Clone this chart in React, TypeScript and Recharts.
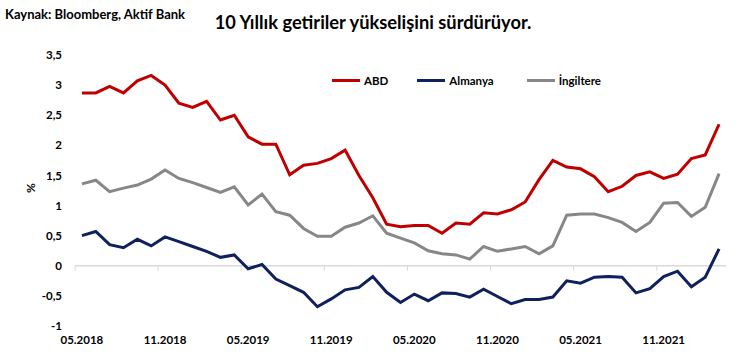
import React from 'react';
import { LineChart, Line, XAxis, YAxis, Legend, ReferenceLine } from 'recharts';

const months = [
  '05.2018', '06.2018', '07.2018', '08.2018', '09.2018', '10.2018', '11.2018', '12.2018',
  '01.2019', '02.2019', '03.2019', '04.2019', '05.2019', '06.2019', '07.2019', '08.2019',
  '09.2019', '10.2019', '11.2019', '12.2019', '01.2020', '02.2020', '03.2020', '04.2020',
  '05.2020', '06.2020', '07.2020', '08.2020', '09.2020', '10.2020', '11.2020', '12.2020',
  '01.2021', '02.2021', '03.2021', '04.2021', '05.2021', '06.2021', '07.2021', '08.2021',
  '09.2021', '10.2021', '11.2021', '12.2021', '01.2022', '02.2022', '03.2022',
];

const abd = [
  2.87, 2.87, 2.98, 2.87, 3.07, 3.16, 3.0, 2.7, 2.63, 2.73, 2.42, 2.5, 2.14, 2.02, 2.02, 1.51,
  1.67, 1.7, 1.78, 1.92, 1.5, 1.13, 0.69, 0.65, 0.67, 0.67, 0.54, 0.71, 0.69, 0.88, 0.86, 0.93,
  1.06, 1.43, 1.75, 1.64, 1.61, 1.48, 1.23, 1.32, 1.5, 1.56, 1.45, 1.52, 1.78, 1.84, 2.35,
];

const almanya = [
  0.5, 0.57, 0.35, 0.3, 0.44, 0.33, 0.48, 0.4, 0.32, 0.24, 0.14, 0.18, -0.05, 0.02, -0.22, -0.33,
  -0.44, -0.68, -0.55, -0.4, -0.36, -0.18, -0.44, -0.61, -0.47, -0.58, -0.45, -0.46, -0.52, -0.39,
  -0.51, -0.63, -0.56, -0.56, -0.52, -0.25, -0.29, -0.19, -0.18, -0.19, -0.45, -0.38, -0.18, -0.09,
  -0.35, -0.19, 0.28,
];

const ingiltere = [
  1.36, 1.42, 1.23, 1.29, 1.34, 1.44, 1.59, 1.45, 1.38, 1.3, 1.22, 1.31, 1.01, 1.19, 0.9, 0.84,
  0.62, 0.49, 0.49, 0.64, 0.71, 0.83, 0.54, 0.46, 0.38, 0.25, 0.2, 0.18, 0.11, 0.32, 0.24, 0.28,
  0.32, 0.2, 0.33, 0.84, 0.86, 0.86, 0.8, 0.72, 0.57, 0.72, 1.04, 1.05, 0.82, 0.97, 1.53,
];

const xTickLabels = ['05.2018', '11.2018', '05.2019', '11.2019', '05.2020', '11.2020', '05.2021', '11.2021'];
const yTicks = [-1, -0.5, 0, 0.5, 1, 1.5, 2, 2.5, 3, 3.5];

const data = months.map((m, i) => ({
  month: m,
  ABD: abd[i],
  Almanya: almanya[i],
  'İngiltere': ingiltere[i],
}));

const FONT = "Lato, 'Open Sans', sans-serif";
const W = 746;
const H = 363;
const MARGIN = { top: 55, right: 20, bottom: 7, left: 0 };
const Y_AXIS_W = 75;
const X_AXIS_H = 30;
const PLOT_W = W - MARGIN.left - MARGIN.right - Y_AXIS_W;
const PLOT_H = H - MARGIN.top - MARGIN.bottom - X_AXIS_H;
const STEP = PLOT_W / months.length;
const Y_MIN = -1;
const Y_MAX = 3.5;
const ZERO_Y = MARGIN.top + (PLOT_H * Y_MAX) / (Y_MAX - Y_MIN);

const XTick = (props: any) => {
  const { x, y, payload } = props;
  const tx = x - STEP / 2;
  return (
    <g>
      <line x1={tx} x2={tx} y1={ZERO_Y} y2={ZERO_Y + 5} stroke="#d9d9d9" strokeWidth={1} />
      <text x={x} y={y} dy="0.71em" textAnchor="middle" fill="#000" fontSize={11.5} fontWeight={700} fontFamily={FONT}>
        {payload.value}
      </text>
    </g>
  );
};

const renderLegend = (props: any) => {
  const { payload } = props;
  return (
    <div style={{ display: 'flex', alignItems: 'center', fontFamily: FONT, fontSize: 11.5, fontWeight: 700 }}>
      {payload.map((entry: any, i: number) => (
        <div key={entry.value} style={{ display: 'flex', alignItems: 'center', marginRight: i === 0 ? 29 : 33 }}>
          <div style={{ width: 28, height: 3, background: entry.color, marginRight: 4 }} />
          <span style={{ color: '#000' }}>{entry.value}</span>
        </div>
      ))}
    </div>
  );
};

export default function App() {
  return (
    <div style={{ position: 'absolute', left: 0, top: 0, width: W, height: H, background: '#fff', fontFamily: FONT }}>
      <div style={{ position: 'absolute', left: 5, top: 6, fontSize: 13, fontWeight: 700, color: '#000' }}>
        Kaynak: Bloomberg, Aktif Bank
      </div>
      <div style={{ position: 'absolute', left: 0, top: 11, width: W, textAlign: 'center', fontSize: 18.3, fontWeight: 700, color: '#000', lineHeight: '22px' }}>
        10 Yıllık getiriler yükselişini sürdürüyor.
      </div>
      <div style={{ position: 'absolute', left: 22, top: 180, width: 16, height: 16, display: 'flex', alignItems: 'center', justifyContent: 'center', transform: 'rotate(-90deg)', fontSize: 12, fontWeight: 700 }}>
        %
      </div>
      <LineChart width={W} height={H} data={data} margin={MARGIN}>
        <ReferenceLine y={0} stroke="#d9d9d9" strokeWidth={1.5} />
        <XAxis
          dataKey="month"
          ticks={xTickLabels}
          interval={0}
          height={X_AXIS_H}
          axisLine={false}
          tickLine={false}
          tickMargin={4}
          padding={{ left: STEP / 2, right: STEP / 2 }}
          tick={<XTick />}
        />
        <YAxis
          width={Y_AXIS_W}
          domain={[Y_MIN, Y_MAX]}
          ticks={yTicks}
          interval={0}
          axisLine={false}
          tickLine={false}
          tickMargin={7}
          tickFormatter={(v: number) => String(v).replace('.', ',')}
          tick={{ fill: '#000', fontSize: 11.5, fontWeight: 700, fontFamily: FONT }}
        />
        <Legend
          content={renderLegend}
          layout="horizontal"
          verticalAlign="middle"
          align="center"
          wrapperStyle={{ position: 'absolute', top: 74, left: 332, width: 'auto' }}
        />
        <Line type="linear" dataKey="ABD" stroke="#c00000" strokeWidth={3} dot={false} isAnimationActive={false} />
        <Line type="linear" dataKey="Almanya" stroke="#0f205e" strokeWidth={3} dot={false} isAnimationActive={false} />
        <Line type="linear" dataKey="İngiltere" stroke="#878787" strokeWidth={3} dot={false} isAnimationActive={false} />
      </LineChart>
    </div>
  );
}
